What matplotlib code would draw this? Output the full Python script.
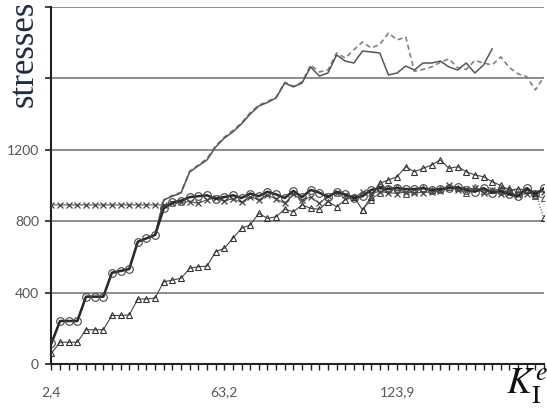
import numpy as np
import matplotlib.pyplot as plt

plt.rcParams["mathtext.fontset"] = "stix"

# category axis: 58 points, only every 20th labelled
n_pts = 58
tick_pos = [0, 20, 40]
tick_labels = ["2,4", "63,2", "123,9"]

circles = [116, 241, 241, 241, 377, 377, 377, 511, 521, 532, 685, 704, 723,
           872, 905, 915, 935, 940, 945, 925, 935, 945, 930, 955, 940, 965,
           950, 930, 970, 935, 975, 960, 935, 965, 950, 930, 940, 975, 985,
           980, 985, 980, 980, 985, 975, 980, 985, 990, 975, 965, 985, 960,
           970, 950, 940, 985, 950, 985]

crosses = [891] * 14 + [
    900, 905, 910, 900, 920, 930, 915, 925, 905, 935, 920, 945, 925, 900,
    950, 920, 935, 900, 940, 960, 945, 930, 965, 960, 965, 960, 955, 965,
    960, 960, 965, 970, 1000, 975, 980, 985, 960, 975, 955, 960, 945, 955,
    960, 965]

tri_main = [60, 122, 122, 122, 192, 192, 192, 272, 272, 275, 364, 364, 370,
            461, 470, 480, 536, 545, 548, 629, 648, 704, 760, 779, 844, 816,
            825, 867, 853, 891, 872, 867, 909, 881, 919, 937, 863, 937, 1012,
            1031, 1049, 1105, 1077, 1096, 1115, 1143, 1096, 1105, 1077, 1059,
            1049, 1021, 1000, 975, 980, 975, 960, 816]

tri_low = [np.nan] * 36 + [
    863, 920, 960, 985, 990, 950, 970, 985, 975, 980, 990, 985, 960, 990,
    970, 975, 980, 985, 960, 975, 940, 930]

solid = [116, 241, 241, 241, 377, 377, 377, 511, 521, 532, 685, 704, 723,
         919, 940, 958, 1076, 1110, 1143, 1215, 1265, 1300, 1345, 1400, 1445,
         1465, 1490, 1574, 1552, 1574, 1664, 1613, 1630, 1731, 1697, 1686,
         1753, 1748, 1742, 1619, 1630, 1669, 1647, 1686, 1686, 1697, 1664,
         1647, 1686, 1630, 1675, 1765] + [np.nan] * 6

dashed = [116, 241, 241, 241, 377, 377, 377, 511, 521, 532, 685, 704, 723,
          919, 945, 962, 1080, 1115, 1150, 1222, 1270, 1308, 1350, 1408, 1450,
          1470, 1495, 1578, 1556, 1580, 1675, 1636, 1647, 1742, 1714, 1760,
          1804, 1770, 1790, 1854, 1815, 1832, 1640, 1650, 1664, 1690, 1709,
          1660, 1650, 1700, 1686, 1675, 1720, 1660, 1625, 1610, 1535, 1608]

x = np.arange(n_pts)

fig = plt.figure(figsize=(5.47, 4.09), dpi=100)
ax = fig.add_axes([0.094, 0.110, 0.9005, 0.873])

for v in [400, 800, 1200, 1600, 2000]:
    ax.axhline(v, color="#8c8c8c", lw=1.4, zorder=1)

ax.plot(x, dashed, color="#808080", lw=1.2, ls=(0, (3, 2)), zorder=2)
ax.plot(x, solid, color="#555555", lw=1.1, zorder=3)

ax.plot(x, crosses, color="#555555", lw=0.8, marker="x", ms=5,
        mec="#444444", mew=0.9, zorder=4)
ax.plot(x, tri_low, color="#666666", lw=0.7, marker="^", ms=5,
        mfc="none", mec="#555555", mew=0.8, zorder=4)
ax.plot(x[:-1], tri_main[:-1], color="#444444", lw=0.8, marker="^", ms=5,
        mfc="none", mec="#333333", mew=0.8, zorder=5)
ax.plot(x[-2:], tri_main[-2:], color="#444444", lw=0.8, ls=":", marker="^",
        ms=5, mfc="none", mec="#333333", mew=0.8, markevery=[1], zorder=5)
ax.plot(x, circles, color="#2a2a2a", lw=1.8, marker="o", ms=5.5,
        mfc="none", mec="#444444", mew=0.8, zorder=6)

ax.set_xlim(0, n_pts - 1)
ax.set_ylim(0, 2000)

ax.set_yticks([0, 400, 800, 1200, 1600, 2000])
ax.set_yticklabels(["0", "400", "800", "1200", "", ""])
ax.set_xticks(tick_pos)
ax.set_xticklabels(tick_labels)
ax.set_xticks(x, minor=True)

for s in ["top", "right"]:
    ax.spines[s].set_visible(False)
for s in ["left", "bottom"]:
    ax.spines[s].set_color("#222222")
    ax.spines[s].set_linewidth(1.5)

ax.tick_params(axis="y", direction="out", length=4, width=1.2, color="#222222",
               labelsize=10, labelcolor="#555555", pad=5)
ax.tick_params(axis="x", which="both", direction="out", length=4, width=1.0,
               color="#222222", labelsize=10, labelcolor="#555555", pad=12)
for lab in ax.get_xticklabels() + ax.get_yticklabels():
    lab.set_family("Lato")

fig.text(0.045, 0.868, "stresses", rotation=90, ha="center", va="center",
         family="Liberation Serif", fontsize=25, color="#1f2a44")

fig.text(0.963, 0.055, r"$K_{\mathrm{I}}^{e}$", ha="center", va="center",
         fontsize=27, color="#111111")

fig.savefig("out.png", dpi=100)
